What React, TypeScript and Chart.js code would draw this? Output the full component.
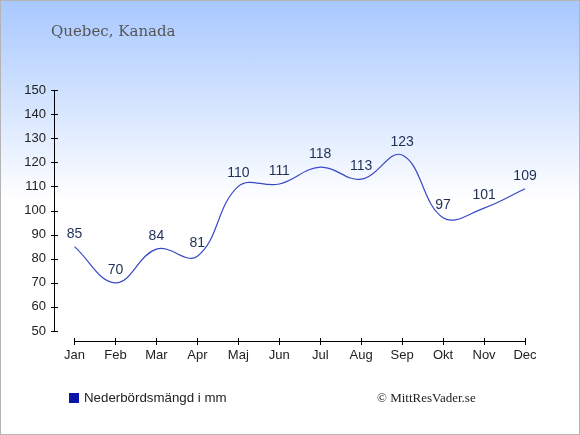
import { Chart, registerables } from 'chart.js'
import { useEffect, useRef } from 'react'

Chart.register(...registerables)

const MONTHS = ['Jan', 'Feb', 'Mar', 'Apr', 'Maj', 'Jun', 'Jul', 'Aug', 'Sep', 'Okt', 'Nov', 'Dec']
const RAIN_MM = [85, 70, 84, 81, 110, 111, 118, 113, 123, 97, 101, 109]
const Y_MIN = 50
const Y_MAX = 150
const Y_STEP = 10

const LINE_COLOR = '#3a48c8'
const LABEL_COLOR = '#1f2f55'

// axis lines and crossing tick marks, drawn apart like the original
const axesPlugin = {
  id: 'axesPlugin',
  afterDraw(chart: Chart) {
    const { ctx, chartArea, scales } = chart
    const x = scales.x
    const y = scales.y
    const axisX = chartArea.left
    const axisY = chartArea.bottom + 10
    ctx.save()
    ctx.strokeStyle = '#000'
    ctx.lineWidth = 1
    ctx.beginPath()
    ctx.moveTo(axisX + 0.5, y.getPixelForValue(Y_MAX))
    ctx.lineTo(axisX + 0.5, y.getPixelForValue(Y_MIN))
    for (let v = Y_MIN; v <= Y_MAX; v += Y_STEP) {
      const py = Math.round(y.getPixelForValue(v)) + 0.5
      ctx.moveTo(axisX - 3, py)
      ctx.lineTo(axisX + 4, py)
    }
    const x0 = x.getPixelForValue(0)
    const x1 = x.getPixelForValue(MONTHS.length - 1)
    ctx.moveTo(x0, axisY + 0.5)
    ctx.lineTo(x1, axisY + 0.5)
    MONTHS.forEach((_, i) => {
      const px = Math.round(x.getPixelForValue(i)) + 0.5
      ctx.moveTo(px, axisY - 3)
      ctx.lineTo(px, axisY + 4)
    })
    ctx.stroke()
    ctx.restore()
  },
}

const valueLabels = {
  id: 'valueLabels',
  afterDatasetsDraw(chart: Chart) {
    const { ctx } = chart
    const meta = chart.getDatasetMeta(0)
    ctx.save()
    ctx.fillStyle = LABEL_COLOR
    ctx.font = '14px "Liberation Sans", Arial, sans-serif'
    ctx.textAlign = 'center'
    ctx.textBaseline = 'middle'
    meta.data.forEach((pt: any, i: number) => {
      ctx.fillText(String(RAIN_MM[i]), pt.x, pt.y - 13)
    })
    ctx.restore()
  },
}

export default function App() {
  const canvasRef = useRef<HTMLCanvasElement>(null)
  const chartRef = useRef<Chart | null>(null)

  useEffect(() => {
    document.body.style.margin = '0'
    if (!canvasRef.current) return
    if (chartRef.current) chartRef.current.destroy()

    chartRef.current = new Chart(canvasRef.current, {
      type: 'line',
      data: {
        labels: MONTHS,
        datasets: [
          {
            label: 'Nederbördsmängd i mm',
            data: RAIN_MM,
            borderColor: LINE_COLOR,
            borderWidth: 1.2,
            pointRadius: 0,
            tension: 0.4,
            fill: false,
          },
        ],
      },
      options: {
        animation: false,
        responsive: true,
        maintainAspectRatio: false,
        layout: { padding: { top: 90, right: 34.5, left: 0, bottom: 0 } },
        plugins: {
          legend: { display: false },
          tooltip: { enabled: false },
        },
        scales: {
          x: {
            offset: true,
            grid: { display: false, drawTicks: false },
            border: { display: false },
            ticks: {
              color: '#222',
              padding: 17,
              maxRotation: 0,
              font: { family: '"Liberation Sans", Arial, sans-serif', size: 13 },
            },
            afterFit: (s: any) => { s.height = 104 },
          },
          y: {
            min: Y_MIN,
            max: Y_MAX,
            grid: { display: false, drawTicks: false },
            border: { display: false },
            ticks: {
              stepSize: Y_STEP,
              color: '#222',
              padding: 8,
              font: { family: '"Liberation Sans", Arial, sans-serif', size: 13 },
            },
            afterFit: (s: any) => { s.width = 54 },
          },
        },
      },
      plugins: [axesPlugin, valueLabels],
    })
    return () => { if (chartRef.current) chartRef.current.destroy() }
  }, [])

  return (
    <div
      style={{
        position: 'relative',
        width: 580,
        height: 435,
        boxSizing: 'border-box',
        border: '1px solid #b4b4b4',
        background: 'linear-gradient(#a8c8ff 0px, #ffffff 200px, #ffffff 100%)',
        overflow: 'hidden',
      }}
    >
      <div style={{ position: 'absolute', left: 0, top: 0, width: 580, height: 435, marginLeft: -1, marginTop: -1 }}>
        <canvas ref={canvasRef} />
      </div>
      <div
        style={{
          position: 'absolute',
          left: 50,
          top: 21,
          font: '15px "DejaVu Serif", Georgia, serif',
          color: '#555',
        }}
      >
        Quebec, Kanada
      </div>
      <div style={{ position: 'absolute', left: 68, top: 392, width: 10, height: 10, background: '#0a14a8' }} />
      <div
        style={{
          position: 'absolute',
          left: 83,
          top: 389,
          font: '13.3px "Liberation Sans", Arial, sans-serif',
          color: '#222',
        }}
      >
        Nederbördsmängd i mm
      </div>
      <div
        style={{
          position: 'absolute',
          left: 376,
          top: 389,
          font: '13px "Liberation Serif", "Times New Roman", serif',
          color: '#222',
        }}
      >
        © MittResVader.se
      </div>
    </div>
  )
}
